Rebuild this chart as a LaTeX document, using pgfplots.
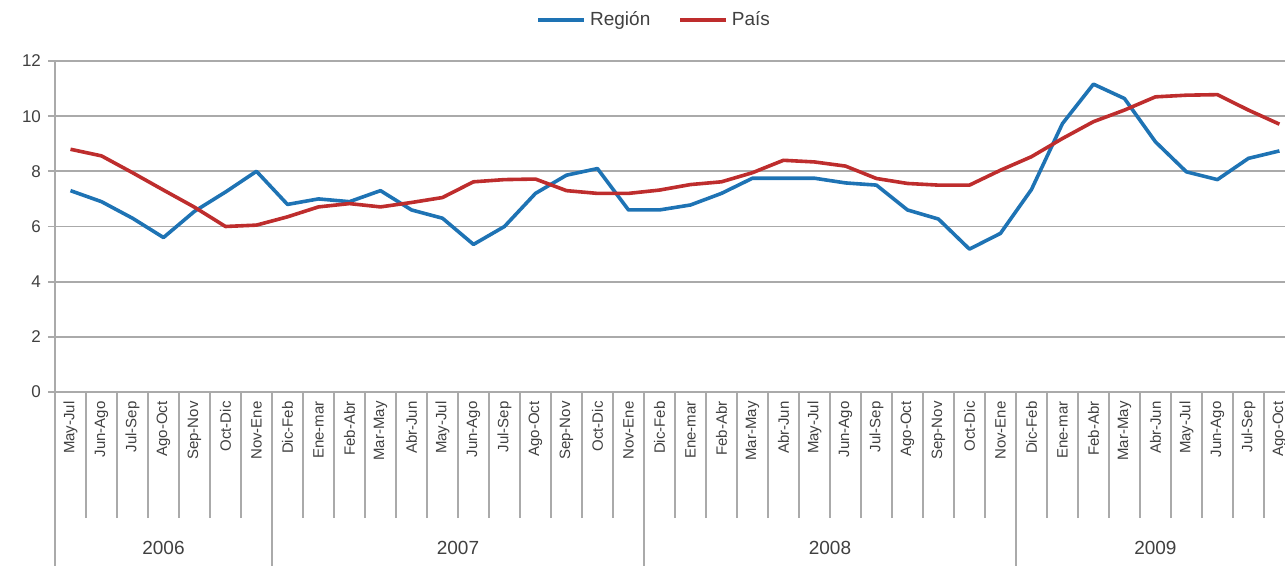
\documentclass[border=0pt]{standalone}
\usepackage{fontspec}
\setmainfont{Liberation Sans}
\usepackage{pgfplots}
\usepackage{pgfplotstable}
\pgfplotsset{compat=1.18}
\definecolor{reg}{RGB}{30,115,180}
\definecolor{pais}{RGB}{190,45,45}
\definecolor{gridc}{RGB}{170,170,170}
\definecolor{txt}{RGB}{64,64,64}
\pgfplotstableread{
i reg pais
0 7.3 8.8
1 6.9 8.56
2 6.3 7.95
3 5.6 7.32
4 6.55 6.7
5 7.25 6.0
6 8.0 6.05
7 6.8 6.35
8 7.0 6.71
9 6.9 6.83
10 7.3 6.71
11 6.6 6.87
12 6.3 7.05
13 5.35 7.62
14 6.0 7.7
15 7.2 7.72
16 7.86 7.3
17 8.1 7.2
18 6.6 7.2
19 6.6 7.32
20 6.78 7.52
21 7.2 7.62
22 7.75 7.95
23 7.75 8.4
24 7.75 8.34
25 7.58 8.19
26 7.5 7.74
27 6.6 7.56
28 6.27 7.5
29 5.18 7.5
30 5.75 8.04
31 7.34 8.53
32 9.73 9.19
33 11.16 9.8
34 10.64 10.22
35 9.07 10.7
36 7.98 10.76
37 7.7 10.78
38 8.47 10.22
39 8.74 9.71
}\datatab
\begin{document}
\begin{tikzpicture}
% year separators
\begin{axis}[
  at={(0,0)}, anchor=south west,
  scale only axis, width=615pt, height=165.5pt,
  xmin=-0.5, xmax=39.18, ymin=0, ymax=12,
  axis x line=bottom, axis y line=none,
  axis line style={draw=none},
  tick align=outside, tick pos=left,
  xtick={-0.5,6.5,18.5,30.5}, xticklabels={},
  major tick length=90pt,
  xtick style={draw=gridc, line width=0.9pt},
]
\end{axis}
\begin{axis}[
  at={(0,0)}, anchor=south west,
  scale only axis, width=615pt, height=165.5pt,
  xmin=-0.5, xmax=39.18, ymin=0, ymax=12,
  clip=false,
  axis x line=bottom, axis y line=left,
  axis line style={draw=gridc, line width=0.9pt, -},
  tick align=outside, tick pos=left,
  ytick={0,2,...,12},
  ymajorgrids, grid style={draw=gridc, line width=0.9pt},
  major tick length=3.5pt,
  ytick style={draw=gridc, line width=0.9pt},
  yticklabel style={font=\fontsize{8.5}{10}\selectfont, text=txt},
  /pgf/number format/assume math mode=true,
  xtick={0,...,39},
  xticklabels={May-Jul,Jun-Ago,Jul-Sep,Ago-Oct,Sep-Nov,Oct-Dic,Nov-Ene,
    Dic-Feb,Ene-mar,Feb-Abr,Mar-May,Abr-Jun,May-Jul,Jun-Ago,Jul-Sep,Ago-Oct,Sep-Nov,Oct-Dic,Nov-Ene,
    Dic-Feb,Ene-mar,Feb-Abr,Mar-May,Abr-Jun,May-Jul,Jun-Ago,Jul-Sep,Ago-Oct,Sep-Nov,Oct-Dic,Nov-Ene,
    Dic-Feb,Ene-mar,Feb-Abr,Mar-May,Abr-Jun,May-Jul,Jun-Ago,Jul-Sep,Ago-Oct},
  xtick style={draw=none},
  xticklabel style={rotate=90, anchor=east, inner sep=1pt, font=\fontsize{7.5}{9}\selectfont, text=txt},
  minor xtick={-0.5,0.5,...,39.5},
  minor tick length=63pt,
  minor x tick style={draw=gridc, line width=0.8pt},
  legend style={at={(0.488,1.124)}, anchor=center, draw=none, fill=none,
    legend columns=2, font=\fontsize{9.5}{11}\selectfont, text=txt,
    /tikz/every even column/.append style={column sep=12pt}},
  legend image code/.code={\draw[#1] (0pt,0pt) -- (23pt,0pt);},
]
\addplot[reg, line width=1.8pt, line join=round] table[x=i, y=reg] {\datatab};
\addlegendentry{Región}
\addplot[pais, line width=1.8pt, line join=round] table[x=i, y=pais] {\datatab};
\addlegendentry{País}
\node[text=txt, font=\fontsize{9.5}{11}\selectfont] at (axis cs:3,0) [yshift=-78pt] {2006};
\node[text=txt, font=\fontsize{9.5}{11}\selectfont] at (axis cs:12.5,0) [yshift=-78pt] {2007};
\node[text=txt, font=\fontsize{9.5}{11}\selectfont] at (axis cs:24.5,0) [yshift=-78pt] {2008};
\node[text=txt, font=\fontsize{9.5}{11}\selectfont] at (axis cs:35,0) [yshift=-78pt] {2009};
\end{axis}
\pgfresetboundingbox
\useasboundingbox (-27.5pt,-87pt) rectangle (615pt,196pt);
\end{tikzpicture}
\end{document}
